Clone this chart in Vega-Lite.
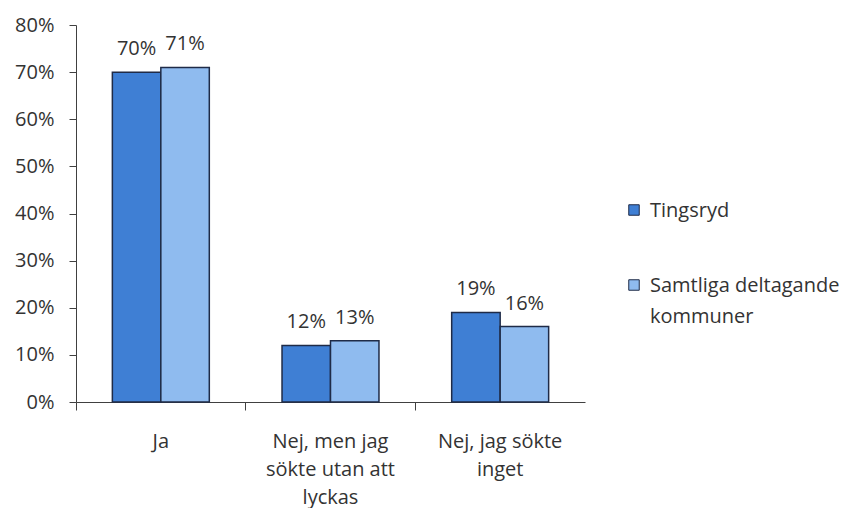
{
  "$schema": "https://vega.github.io/schema/vega-lite/v6.json",
  "width": 509,
  "height": 377,
  "autosize": {"type": "none"},
  "padding": {"left": 76, "top": 25, "right": 271, "bottom": 106},
  "background": "white",
  "config": {
    "view": {"stroke": null},
    "font": "Open Sans",
    "axis": {"labelFont": "Open Sans", "labelColor": "#333333", "grid": false},
    "style": {"guide-label": {"lineHeight": 31, "dy": 7}}
  },
  "data": {
    "values": [
      {"svar": "Ja", "grupp": "Tingsryd", "andel": 0.70},
      {"svar": "Ja", "grupp": "Samtliga deltagande kommuner", "andel": 0.71},
      {"svar": "Nej, men jag sökte utan att lyckas", "grupp": "Tingsryd", "andel": 0.12},
      {"svar": "Nej, men jag sökte utan att lyckas", "grupp": "Samtliga deltagande kommuner", "andel": 0.13},
      {"svar": "Nej, jag sökte inget", "grupp": "Tingsryd", "andel": 0.19},
      {"svar": "Nej, jag sökte inget", "grupp": "Samtliga deltagande kommuner", "andel": 0.16}
    ]
  },
  "encoding": {
    "x": {
      "field": "svar", "type": "nominal",
      "sort": ["Ja", "Nej, men jag sökte utan att lyckas", "Nej, jag sökte inget"],
      "scale": {"paddingInner": 0, "paddingOuter": 0},
      "axis": {
        "title": null, "labelAngle": 0, "bandPosition": 0,
        "domainColor": "#404040", "tickColor": "#404040", "tickSize": 8,
        "labelFontSize": 20, "labelPadding": 14, "labelLineHeight": 28,
        "labelBaseline": "top", "labelAlign": "center",
        "labelExpr": "datum.value == 'Nej, men jag sökte utan att lyckas' ? ['Nej, men jag', 'sökte utan att', 'lyckas'] : datum.value == 'Nej, jag sökte inget' ? ['Nej, jag sökte', 'inget'] : datum.value"
      }
    },
    "xOffset": {
      "field": "grupp", "type": "nominal",
      "sort": ["Tingsryd", "Samtliga deltagande kommuner"],
      "scale": {"paddingOuter": 0.75, "paddingInner": 0}
    }
  },
  "layer": [
    {
      "mark": {"type": "bar", "stroke": "#1F2B47", "strokeWidth": 1.5},
      "encoding": {
        "y": {
          "field": "andel", "type": "quantitative",
          "scale": {"domain": [0, 0.8], "nice": false},
          "axis": {
            "title": null, "format": ".0%", "values": [0, 0.1, 0.2, 0.3, 0.4, 0.5, 0.6, 0.7, 0.8],
            "domainColor": "#404040", "tickColor": "#404040", "tickSize": 7,
            "labelFontSize": 20, "labelPadding": 15, "labelOffset": -7
          }
        },
        "color": {
          "field": "grupp", "type": "nominal",
          "sort": ["Tingsryd", "Samtliga deltagande kommuner"],
          "scale": {"domain": ["Tingsryd", "Samtliga deltagande kommuner"], "range": ["#3F7FD4", "#8FBBEF"]},
          "legend": {
            "title": null, "orient": "none", "legendX": 548, "legendY": 175,
            "symbolType": "square", "symbolSize": 110, "symbolStrokeColor": "#1F2B47", "symbolStrokeWidth": 1,
            "symbolOpacity": 1,
            "labelFont": "Open Sans", "labelFontSize": 20, "labelColor": "#333333", "labelLimit": 300,
            "labelOffset": 6, "labelBaseline": "alphabetic", "rowPadding": 54,
            "labelExpr": "datum.label == 'Samtliga deltagande kommuner' ? ['Samtliga deltagande', 'kommuner'] : datum.label"
          }
        }
      }
    },
    {
      "mark": {"type": "text", "baseline": "bottom", "dy": -13, "fontSize": 20, "font": "Open Sans", "color": "#333333"},
      "encoding": {
        "y": {"field": "andel", "type": "quantitative"},
        "text": {"field": "andel", "type": "quantitative", "format": ".0%"}
      }
    }
  ]
}
